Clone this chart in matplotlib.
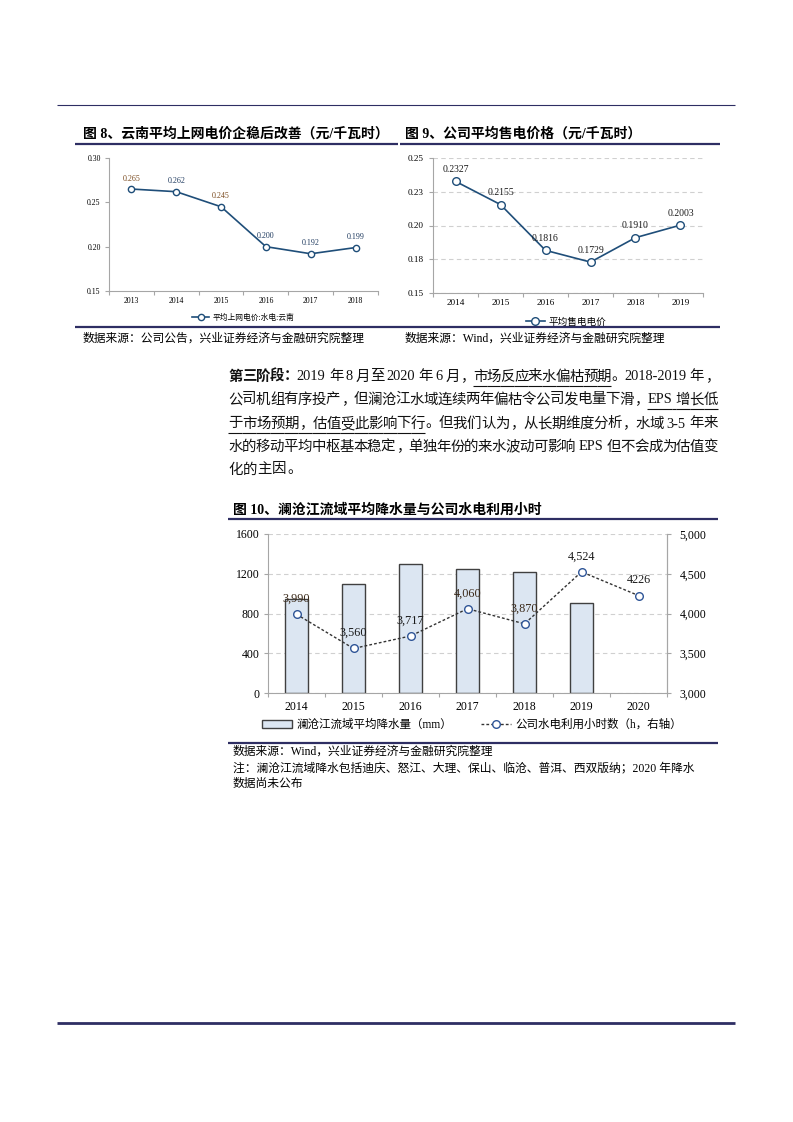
import re
import matplotlib
matplotlib.use('Agg')
import matplotlib.pyplot as plt
from matplotlib.lines import Line2D
import numpy as np

plt.rcParams['font.family'] = ['Liberation Serif', 'Noto Sans CJK SC']
plt.rcParams['axes.unicode_minus'] = False

W, H = 793, 1122
NAVY = '#2e2e63'
GRAY = '#a6a6a6'

# ---- data: figure 8 ----
years8 = ['2013', '2014', '2015', '2016', '2017', '2018']
price8 = [0.265, 0.262, 0.245, 0.200, 0.192, 0.199]
price8_text = ['0.265', '0.262', '0.245', '0.200', '0.192', '0.199']
yticks8 = [0.15, 0.20, 0.25, 0.30]

# ---- data: figure 9 ----
years9 = ['2014', '2015', '2016', '2017', '2018', '2019']
price9 = [0.2327, 0.2155, 0.1816, 0.1729, 0.1910, 0.2003]
price9_text = ['0.2327', '0.2155', '0.1816', '0.1729', '0.1910', '0.2003']
yticks9 = [0.15, 0.175, 0.20, 0.225, 0.25]
yticks9_text = ['0.15', '0.18', '0.20', '0.23', '0.25']

# ---- data: figure 10 ----
years10 = ['2014', '2015', '2016', '2017', '2018', '2019', '2020']
rain = [950, 1095, 1300, 1250, 1222, 908]           # 2014-2019, 2020 not published
hours = [3990, 3560, 3717, 4060, 3870, 4524, 4226]
hours_text = ['3,990', '3,560', '3,717', '4,060', '3,870', '4,524', '4226']
yticks10_left = [0, 400, 800, 1200, 1600]
yticks10_right = [3000, 3500, 4000, 4500, 5000]


def fx(x):
    return x / W


def fy(y):
    return 1 - y / H


fig = plt.figure(figsize=(W / 100, H / 100), dpi=100)
fig.patch.set_facecolor('white')


def hline(y, x0, x1, lw, color=NAVY):
    fig.add_artist(Line2D([fx(x0), fx(x1)], [fy(y), fy(y)], lw=lw, color=color,
                          transform=fig.transFigure, solid_capstyle='butt'))


def cat_axis(ax, labels, fs, pad):
    n = len(labels)
    ax.set_xlim(-0.5, n - 0.5)
    ax.set_xticks(range(n))
    ax.set_xticklabels(labels, fontsize=fs)
    ax.set_xticks(np.arange(n + 1) - 0.5, minor=True)
    ax.tick_params(axis='x', which='major', length=0, pad=pad)
    ax.tick_params(axis='x', which='minor', length=3, color=GRAY, width=0.8)
    for s in ['top', 'right']:
        ax.spines[s].set_visible(False)
    for s in ['left', 'bottom']:
        ax.spines[s].set_color(GRAY)
        ax.spines[s].set_linewidth(0.8)


# page rules
hline(105, 57, 735, 0.8)
hline(1023, 57, 735, 2.0)

# ================= figure 8 =================
fig.text(fx(83), fy(134), '图 8、云南平均上网电价企稳后改善（元/千瓦时）',
         fontsize=10, fontweight='bold', va='center', ha='left')
hline(144, 75, 398, 1.6)
ax8 = fig.add_axes([fx(109), fy(291), (378 - 109) / W, (291 - 158) / H])
x8 = np.arange(len(years8))
ax8.plot(x8, price8, color='#1f4e79', lw=1.2, marker='o', ms=4.5,
         mfc='white', mec='#1f4e79', mew=1.0, label='平均上网电价:水电:云南')
ax8.set_ylim(0.15, 0.30)
ax8.set_yticks(yticks8)
ax8.set_yticklabels(['%.2f' % v for v in yticks8], fontsize=5.6)
ax8.tick_params(axis='y', length=3, color=GRAY, width=0.8, pad=3)
cat_axis(ax8, years8, 5.6, 4)
lab8_colors = ['#7a4a1e', '#1f3a5f', '#7a4a1e', '#1f3a5f', '#1f3a5f', '#1f3a5f']
for i, (v, t) in enumerate(zip(price8, price8_text)):
    ax8.annotate(t, (i, v), xytext=(0, 7.5), textcoords='offset points',
                 ha='center', va='center', fontsize=5.8, color=lab8_colors[i])
ax8.legend(loc='center', bbox_to_anchor=(fx(243), fy(318)), bbox_transform=fig.transFigure,
           frameon=False, fontsize=5.6, handlelength=2.2, handletextpad=0.4)
hline(327, 75, 720, 1.6)
fig.text(fx(83), fy(339), '数据来源：公司公告，兴业证券经济与金融研究院整理',
         fontsize=8.5, va='center', ha='left')

# ================= figure 9 =================
fig.text(fx(405), fy(134), '图 9、公司平均售电价格（元/千瓦时）',
         fontsize=10, fontweight='bold', va='center', ha='left')
hline(144, 400, 720, 1.6)
ax9 = fig.add_axes([fx(433), fy(293), (703 - 433) / W, (293 - 158) / H])
x9 = np.arange(len(years9))
ax9.plot(x9, price9, color='#1f4e79', lw=1.2, marker='o', ms=5.5,
         mfc='white', mec='#1f4e79', mew=1.0, label='平均售电电价')
ax9.set_ylim(0.15, 0.25)
ax9.set_yticks(yticks9)
ax9.set_yticklabels(yticks9_text, fontsize=6.6)
ax9.tick_params(axis='y', length=3, color=GRAY, width=0.8, pad=4)
ax9.yaxis.grid(True, ls=(0, (4, 3)), color='#d0d0d0', lw=0.8)
ax9.set_axisbelow(True)
cat_axis(ax9, years9, 6.6, 4)
for i, (v, t) in enumerate(zip(price9, price9_text)):
    ax9.annotate(t, (i, v), xytext=(0, 8.6), textcoords='offset points',
                 ha='center', va='center', fontsize=7, color='#1a1a1a')
ax9.legend(loc='center', bbox_to_anchor=(fx(566), fy(322)), bbox_transform=fig.transFigure,
           frameon=False, fontsize=6.9, handlelength=2.0, handletextpad=0.4)
fig.text(fx(405), fy(339), '数据来源：Wind，兴业证券经济与金融研究院整理',
         fontsize=8.5, va='center', ha='left')

# ================= paragraph =================
renderer = fig.canvas.get_renderer()
PFS = 10.4
EM = PFS * 100 / 72
PUNCT = '，。：；、！？'


def para_line(y, runs, justify=True, x0=228, x1=718):
    toks = []
    for s, bold, ul in runs:
        for t in re.findall(r'[A-Za-z0-9.\-]+| |.', s):
            toks.append((t, bold, ul))
    objs, widths = [], []
    for t, bold, ul in toks:
        if t == ' ':
            objs.append(None)
            widths.append(0.25 * EM)
            continue
        o = fig.text(0, fy(y), t, fontsize=PFS, fontweight='bold' if bold else 'normal',
                     va='center', ha='left', color='#111111')
        if ord(t[0]) > 127:
            if t not in PUNCT:
                o.set_ha('center')
            widths.append(EM)
        else:
            widths.append(o.get_window_extent(renderer).width + 1)
        objs.append(o)
    extra = 0
    if justify and len(toks) > 1:
        extra = (x1 - x0 - sum(widths)) / (len(toks) - 1)
    x = x0
    xs = []
    for o, w in zip(objs, widths):
        xs.append(x)
        if o is not None:
            if o.get_ha() == 'center':
                o.set_x(fx(x + w / 2))
            elif o.get_text() in PUNCT:
                o.set_x(fx(x + 0.08 * EM))
            else:
                o.set_x(fx(x))
        x += w + extra
    for i, (t, bold, ul) in enumerate(toks):
        if not ul:
            continue
        end = xs[i + 1] if (i + 1 < len(toks) and toks[i + 1][2]) else xs[i] + widths[i]
        hline(y + 9, xs[i], end, 0.8, color='#111111')


para_line(377, [('第三阶段：', True, False), ('2019 年 8 月至 2020 年 6 月，', False, False),
                ('市场反应来水偏枯预期', False, True), ('。2018-2019 年，', False, False)])
para_line(400, [('公司机组有序投产，但澜沧江水域连续两年偏枯令公司发电量下滑，', False, False),
                ('EPS 增长低', False, True)])
para_line(424, [('于市场预期，估值受此影响下行', False, True),
                ('。但我们认为，从长期维度分析，水域 3-5 年来', False, False)])
para_line(447, [('水的移动平均中枢基本稳定，单独年份的来水波动可影响 EPS 但不会成为估值变', False, False)])
para_line(470, [('化的主因。', False, False)], justify=False)

# ================= figure 10 =================
fig.text(fx(233), fy(510), '图 10、澜沧江流域平均降水量与公司水电利用小时',
         fontsize=10, fontweight='bold', va='center', ha='left')
hline(519, 228, 718, 1.6)
ax10 = fig.add_axes([fx(268), fy(693), (667 - 268) / W, (693 - 534) / H])
x10 = np.arange(len(years10))
ax10.bar(x10[:len(rain)], rain, width=0.4, color='#dce6f2', edgecolor='#404040',
         lw=1.0, zorder=2, label='澜沧江流域平均降水量（mm）')
ax10.set_ylim(0, 1600)
ax10.set_yticks(yticks10_left)
ax10.set_yticklabels([str(v) for v in yticks10_left], fontsize=8.5)
ax10.tick_params(axis='y', length=3, color=GRAY, width=0.8, pad=3)
ax10.yaxis.grid(True, ls=(0, (4, 3)), color='#d0d0d0', lw=0.8)
ax10.set_axisbelow(True)
cat_axis(ax10, years10, 8.5, 6)
ax10.spines['right'].set_visible(True)
ax10.spines['right'].set_color(GRAY)

ax10r = ax10.twinx()
ax10r.plot(x10, hours, color='#333333', lw=1.0, ls=(0, (2, 1.5)), marker='o', ms=5.5,
           mfc='white', mec='#2f5597', mew=1.0, zorder=3, label='公司水电利用小时数（h，右轴）')
ax10r.set_ylim(3000, 5000)
ax10r.set_yticks(yticks10_right)
ax10r.set_yticklabels(['{:,}'.format(v) for v in yticks10_right], fontsize=8.5)
ax10r.tick_params(axis='y', length=3, color=GRAY, width=0.8, pad=6)
for s in ['top', 'left', 'bottom']:
    ax10r.spines[s].set_visible(False)
ax10r.spines['right'].set_color(GRAY)
ax10r.spines['right'].set_linewidth(0.8)
lab10_colors = ['#3b2a1a', '#1a1a1a', '#1a1a1a', '#3b2a1a', '#3b2a1a', '#1a1a1a', '#1a1a1a']
for i, (v, t) in enumerate(zip(hours, hours_text)):
    ax10r.annotate(t, (i, v), xytext=(0, 11), textcoords='offset points',
                   ha='center', va='center', fontsize=8.8, color=lab10_colors[i], zorder=4)

h1, l1 = ax10.get_legend_handles_labels()
h2, l2 = ax10r.get_legend_handles_labels()
ax10r.legend(h1 + h2, l1 + l2, loc='center', ncol=2, bbox_to_anchor=(fx(472), fy(725)),
             bbox_transform=fig.transFigure, frameon=False, fontsize=8.3,
             handlelength=2.6, handletextpad=0.4, columnspacing=2.5, handleheight=0.6)
hline(743, 228, 718, 1.6)
fig.text(fx(233), fy(752), '数据来源：Wind，兴业证券经济与金融研究院整理',
         fontsize=8.5, va='center', ha='left')
fig.text(fx(233), fy(768), '注：澜沧江流域降水包括迪庆、怒江、大理、保山、临沧、普洱、西双版纳；2020 年降水',
         fontsize=8.5, va='center', ha='left')
fig.text(fx(233), fy(784), '数据尚未公布', fontsize=8.5, va='center', ha='left')

fig.savefig('out.png', dpi=100, facecolor='white')
